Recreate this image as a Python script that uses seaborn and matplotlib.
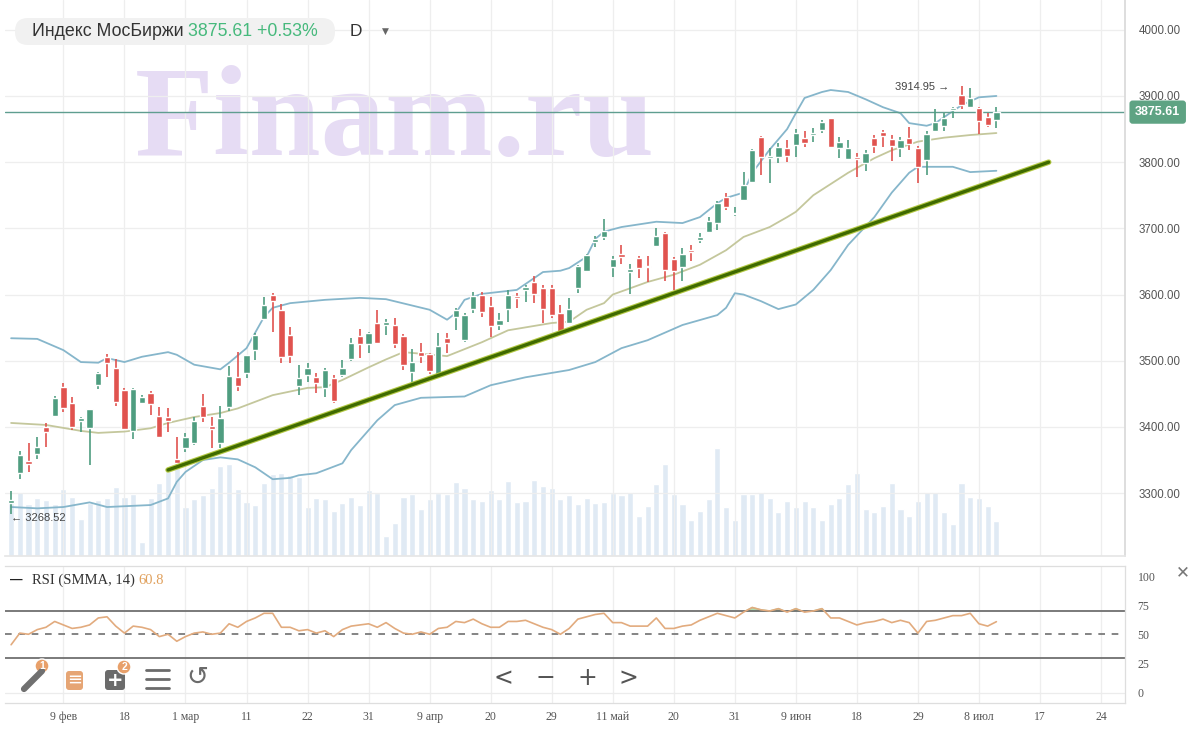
import numpy as np
import pandas as pd
import seaborn as sns
import matplotlib.pyplot as plt
import matplotlib.patheffects as pe
from matplotlib.patches import FancyBboxPatch, Circle
from matplotlib.transforms import IdentityTransform
from matplotlib.ticker import StrMethodFormatter

# daily candles, IMOEX (one entry per trading day)
opens = [3285, 3330, 3348, 3359, 3400, 3416, 3460, 3436, 3409, 3398,
         3463, 3506, 3489, 3456, 3394, 3436, 3451, 3416, 3415, 3351,
         3368, 3376, 3432, 3401, 3376, 3430, 3475, 3481, 3516, 3563,
         3599, 3577, 3539, 3462, 3478, 3475, 3459, 3474, 3478, 3503,
         3537, 3525, 3557, 3554, 3554, 3537, 3483, 3513, 3510, 3478,
         3534, 3566, 3531, 3578, 3599, 3583, 3554, 3578, 3598, 3607,
         3619, 3610, 3610, 3572, 3557, 3610, 3636, 3679, 3687, 3642,
         3661, 3634, 3655, 3643, 3673, 3693, 3654, 3642, 3667, 3683,
         3695, 3708, 3747, 3721, 3743, 3770, 3838, 3806, 3808, 3822,
         3826, 3837, 3841, 3849, 3866, 3822, 3805, 3807, 3799, 3837,
         3846, 3835, 3822, 3837, 3822, 3803, 3847, 3855, 3879, 3902,
         3884, 3882, 3868, 3864]
highs = [3303, 3363, 3376, 3385, 3406, 3447, 3466, 3445, 3415, 3427,
         3483, 3510, 3503, 3459, 3459, 3448, 3454, 3430, 3428, 3385,
         3391, 3415, 3450, 3415, 3432, 3492, 3513, 3509, 3542, 3596,
         3602, 3586, 3551, 3494, 3497, 3481, 3489, 3478, 3501, 3534,
         3548, 3543, 3577, 3563, 3565, 3540, 3518, 3527, 3512, 3542,
         3542, 3580, 3572, 3604, 3604, 3596, 3572, 3607, 3602, 3614,
         3628, 3614, 3614, 3584, 3595, 3645, 3661, 3689, 3714, 3658,
         3675, 3646, 3658, 3658, 3701, 3694, 3657, 3670, 3675, 3693,
         3717, 3741, 3753, 3732, 3785, 3820, 3840, 3822, 3829, 3834,
         3850, 3847, 3852, 3864, 3867, 3838, 3834, 3814, 3819, 3841,
         3849, 3841, 3838, 3853, 3825, 3847, 3880, 3875, 3884, 3914.95,
         3912, 3884, 3875, 3884]
lows = [3268.52, 3321, 3332, 3351, 3370, 3415, 3422, 3395, 3392, 3342,
        3457, 3475, 3432, 3396, 3382, 3434, 3418, 3385, 3392, 3336,
        3362, 3373, 3407, 3368, 3368, 3424, 3454, 3474, 3501, 3562,
        3543, 3497, 3497, 3448, 3468, 3451, 3445, 3436, 3476, 3500,
        3504, 3512, 3525, 3539, 3519, 3486, 3466, 3497, 3480, 3475,
        3512, 3546, 3528, 3572, 3566, 3536, 3546, 3559, 3580, 3589,
        3587, 3557, 3565, 3539, 3555, 3602, 3634, 3672, 3682, 3627,
        3646, 3601, 3625, 3619, 3672, 3621, 3607, 3621, 3651, 3678,
        3693, 3698, 3728, 3719, 3742, 3769, 3781, 3769, 3799, 3801,
        3808, 3823, 3831, 3844, 3822, 3806, 3804, 3778, 3787, 3814,
        3823, 3802, 3808, 3819, 3769, 3781, 3846, 3847, 3866, 3880,
        3883, 3843, 3853, 3852]
closes = [3289, 3357, 3344, 3370, 3392, 3444, 3428, 3400, 3413, 3427,
          3481, 3497, 3438, 3397, 3457, 3445, 3435, 3385, 3409, 3345,
          3385, 3409, 3415, 3397, 3413, 3477, 3462, 3509, 3539, 3584,
          3590, 3506, 3507, 3474, 3489, 3466, 3486, 3439, 3489, 3527,
          3525, 3542, 3527, 3559, 3525, 3494, 3498, 3507, 3484, 3522,
          3527, 3577, 3569, 3598, 3574, 3553, 3562, 3599, 3595, 3611,
          3601, 3578, 3569, 3542, 3578, 3643, 3660, 3684, 3696, 3654,
          3657, 3639, 3640, 3641, 3689, 3637, 3636, 3661, 3664, 3687,
          3711, 3738, 3732, 3723, 3766, 3819, 3808, 3809, 3823, 3810,
          3844, 3829, 3843, 3861, 3823, 3831, 3822, 3805, 3814, 3825,
          3840, 3825, 3834, 3828, 3793, 3843, 3861, 3867, 3882, 3887,
          3897, 3862, 3856, 3875.61]
# volume, relative units
volumes = [53, 64, 52, 58, 56, 52, 67, 59, 37, 53,
           56, 58, 69, 59, 62, 14, 58, 73, 85, 93,
           49, 57, 61, 68, 90, 92, 67, 54, 51, 73,
           82, 83, 81, 79, 49, 58, 57, 45, 53, 59,
           51, 66, 63, 20, 33, 59, 62, 47, 57, 63,
           62, 74, 68, 57, 55, 66, 57, 75, 54, 55,
           76, 70, 68, 57, 61, 52, 58, 53, 54, 63,
           61, 64, 40, 50, 72, 92, 62, 52, 36, 45,
           57, 108, 49, 36, 62, 62, 64, 58, 44, 55,
           49, 55, 49, 36, 52, 58, 72, 83, 47, 44,
           50, 73, 47, 40, 55, 64, 64, 44, 32, 73,
           59, 58, 50, 35]
rsi = [41, 51, 50, 54, 56, 61, 58, 55, 56, 58,
       64, 65, 57, 51, 57, 56, 54, 48, 50, 44,
       48, 51, 52, 50, 51, 59, 56, 61, 64, 68,
       68, 56, 56, 53, 54, 51, 53, 48, 54, 57,
       58, 59, 56, 60, 55, 51, 50, 52, 50, 55,
       56, 61, 60, 63, 59, 56, 56, 61, 61, 62,
       59, 56, 54, 50, 55, 63, 65, 67, 68, 60,
       60, 57, 57, 57, 64, 55, 55, 57, 58, 62,
       65, 68, 66, 64, 69, 73, 71, 70, 72, 69,
       72, 69, 70, 72, 64, 64, 61, 58, 60, 61,
       63, 60, 62, 60, 51, 61, 62, 64, 66, 66,
       68, 59, 57, 60.8]

# Bollinger bands read at some bars
upper_idx = [0, 3, 6, 8, 10, 11, 13, 15, 18, 19, 21, 24, 25, 27, 29, 30, 32, 36, 40, 43,
             48, 50, 51, 52, 54, 58, 61, 63, 64, 66, 67, 68, 70, 74, 77, 79, 81, 82, 84, 85,
             87, 89, 90, 91, 93, 94, 96, 98, 100, 102, 103, 105, 106, 107, 109, 111, 113]
upper = [3534, 3533, 3516, 3498, 3497, 3504, 3498, 3506, 3513, 3509, 3494, 3487, 3497, 3519, 3566, 3580, 3587, 3592, 3595, 3593,
         3577, 3562, 3572, 3592, 3601, 3607, 3634, 3636, 3640, 3657, 3684, 3695, 3702, 3710, 3708, 3717, 3738, 3746, 3754, 3784,
         3819, 3850, 3874, 3897, 3906, 3909, 3906, 3895, 3883, 3874, 3859, 3855, 3859, 3868, 3886, 3898, 3900]
mid_idx = [0, 4, 8, 10, 13, 16, 18, 21, 24, 26, 30, 34, 36, 38, 41, 43, 45, 50, 54, 57,
           62, 64, 66, 68, 69, 73, 76, 79, 82, 84, 87, 89, 90, 92, 96, 99, 101, 104, 107, 110, 113]
mid = [3406, 3403, 3394, 3391, 3393, 3398, 3406, 3415, 3421, 3428, 3448, 3459, 3460, 3471, 3490, 3502, 3513, 3507, 3528, 3546,
       3557, 3559, 3577, 3587, 3600, 3619, 3630, 3645, 3667, 3687, 3702, 3717, 3725, 3750, 3784, 3806, 3818, 3831, 3837, 3841, 3844]
lower_idx = [0, 3, 6, 9, 11, 16, 18, 19, 20, 22, 24, 26, 28, 30, 32, 33, 35, 38, 39, 40,
             42, 44, 47, 52, 55, 56, 59, 64, 65, 67, 70, 73, 77, 81, 82, 83, 84, 86, 88, 90,
             92, 94, 96, 99, 101, 103, 104, 105, 108, 110, 113]
lower = [3279, 3277, 3279, 3286, 3279, 3282, 3292, 3317, 3332, 3350, 3354, 3351, 3339, 3321, 3323, 3327, 3330, 3345, 3365, 3380,
         3410, 3433, 3444, 3446, 3463, 3466, 3475, 3486, 3490, 3498, 3519, 3531, 3554, 3569, 3580, 3602, 3600, 3590, 3578, 3585,
         3607, 3637, 3675, 3717, 3754, 3784, 3793, 3793, 3793, 3785, 3787]

# support line drawn by hand on the chart
trend_idx = [18, 119]
trend_val = [3335, 3800]

tick_labels = ['9 фев', '18', '1 мар', '11', '22', '31', '9 апр', '20', '29',
               '11 май', '20', '31', '9 июн', '18', '29', '8 июл', '17', '24']

df = pd.DataFrame({'open': opens, 'high': highs, 'low': lows, 'close': closes,
                   'vol': volumes, 'rsi': rsi})
df['bar'] = np.arange(len(df))

GREEN = '#4f9d80'
RED = '#e0534f'
GRID = '#eeeeee'
LBL = '#555555'

sns.set_theme(style='white')
plt.rcParams['font.family'] = ['Liberation Sans', 'DejaVu Sans']

W, H = 1200, 740
fig = plt.figure(figsize=(12, 7.4), dpi=100)
ax = fig.add_axes([5 / W, 1 - 556 / H, 1120 / W, 556 / H])
rax = fig.add_axes([5 / W, 1 - 703 / H, 1120 / W, 137 / H], sharex=ax)

# volume underneath
axv = ax.twinx()
axv.set_zorder(ax.get_zorder() - 1)
ax.patch.set_visible(False)
axv.bar(df['bar'], df['vol'], width=0.7, color='#e0eaf4', zorder=1)
axv.set_ylim(0, 556)
axv.set_yticks([])
for s in axv.spines.values():
    s.set_visible(False)

# watermark
ax.text(135 / W, 1 - 155 / H, 'Finam.ru', transform=fig.transFigure, fontsize=93,
        fontweight='bold', family='Liberation Serif', color='#e6dcf4', zorder=0.5,
        va='baseline', ha='left')

# bands
sns.lineplot(x=upper_idx, y=upper, ax=ax, color='#86b6cb', linewidth=1.3, zorder=2)
sns.lineplot(x=lower_idx, y=lower, ax=ax, color='#86b6cb', linewidth=1.3, zorder=2)
sns.lineplot(x=mid_idx, y=mid, ax=ax, color='#c4c79c', linewidth=1.3, zorder=2)

# candles
up = df['close'] >= df['open']
cols = np.where(up, GREEN, RED)
ax.vlines(df['bar'], df['low'], df['high'], color=cols, linewidth=1.2, zorder=3)
body = (df['close'] - df['open']).abs().clip(lower=2.5)
ax.bar(df['bar'], body, bottom=np.minimum(df['open'], df['close']), width=0.72,
       color=cols, zorder=4)

# last price line + label
last = closes[-1]
ax.axhline(last, color='#5f9e90', linewidth=1, zorder=2.5)
ax.text(1.009, last, f'{last:.2f}', transform=ax.get_yaxis_transform(), ha='left',
        va='center', fontsize=9, fontweight='bold', color='white', clip_on=False,
        bbox=dict(boxstyle='round,pad=0.45,rounding_size=0.25', fc='#5ea383', ec='none'),
        zorder=6)

# trend line
ax.plot(trend_idx, trend_val, color='#3f6a00', linewidth=2.4, zorder=5, solid_capstyle='round',
        path_effects=[pe.Stroke(linewidth=4, foreground='#b3c843'), pe.Normal()])

# high / low marks
hi = int(np.argmax(highs))
ax.annotate(f'{highs[hi]:.2f} \u2192', xy=(hi, highs[hi]), xytext=(-9, -1),
            textcoords='offset points', ha='right', va='center', fontsize=8, color='#444444')
lo = int(np.argmin(lows))
ax.annotate(f'\u2190 {lows[lo]:.2f}', xy=(lo, lows[lo]), xytext=(0, -3),
            textcoords='offset points', ha='left', va='center', fontsize=8, color='#444444')

ax.set_xlim(-0.7, 127.75)
ax.set_ylim(3205, 4045)
ax.set_yticks(np.arange(3300, 4001, 100))
ax.yaxis.tick_right()
ax.yaxis.set_major_formatter(StrMethodFormatter('{x:.2f}'))
ax.tick_params(axis='y', length=0, pad=10, labelsize=8.3, labelcolor=LBL)
ax.tick_params(axis='x', length=0, labelbottom=False)
ax.grid(True, color=GRID, linewidth=0.9)
for k in ['top', 'left']:
    ax.spines[k].set_visible(False)
ax.spines['right'].set_color('#dadada')
ax.spines['bottom'].set_color('#e6e6e6')
ax.set_xlabel('')
ax.set_ylabel('')

# RSI panel
bars = df['bar'].to_numpy()
rv = df['rsi'].to_numpy()
rax.fill_between(bars, 70, rv, where=rv > 70, interpolate=True, color='#9fd49a', alpha=0.8, zorder=2)
sns.lineplot(x=bars, y=rv, ax=rax, color='#e2ab7e', linewidth=1.2, zorder=3)
rax.axhline(70, color='#707070', linewidth=1.3, zorder=2)
rax.axhline(30, color='#707070', linewidth=1.3, zorder=2)
rax.axhline(50, color='#707070', linewidth=1.2, linestyle=(0, (4, 4)), zorder=2)
rax.axhline(0, color='#ececec', linewidth=0.9, zorder=1)
rax.set_ylim(-9, 108.6)
rax.set_yticks([0, 25, 50, 75, 100])
rax.yaxis.tick_right()
rax.tick_params(axis='y', length=0, pad=9, labelsize=8.5, labelcolor=LBL)
for t in rax.get_yticklabels():
    t.set_family('Liberation Serif')
rax.set_xticks(np.arange(6, 6 + 7 * len(tick_labels), 7))
rax.set_xticklabels(tick_labels, family='Liberation Serif', fontsize=8.5, color=LBL)
rax.tick_params(axis='x', length=0, pad=6)
rax.grid(True, axis='x', color=GRID, linewidth=0.9)
rax.spines['left'].set_visible(False)
for k in ['top', 'right', 'bottom']:
    rax.spines[k].set_color('#dedede')
    rax.spines[k].set_linewidth(0.9)
rax.set_xlabel('')
rax.set_ylabel('')


def fx(x, y):
    return x / W, 1 - y / H


def after(txt, s, **kw):
    # put a second text right after the end of the first one
    fig.canvas.draw()
    bb = txt.get_window_extent()
    y = txt.get_position()[1]
    return fig.text(bb.x1 / W, y, s, va='center', ha='left', **kw)


# header pill
fig.add_artist(FancyBboxPatch((15, H - 45), 320, 27, boxstyle='round,pad=0,rounding_size=13',
                              transform=IdentityTransform(), fc='#f1f1f1', ec='none'))
t1 = fig.text(*fx(32, 31), 'Индекс МосБиржи ', fontsize=12.8, color='#333333', va='center')
after(t1, '3875.61 +0.53%', fontsize=12.8, color='#46b97c')
fig.text(*fx(350, 31), 'D', fontsize=12.5, color='#333333', va='center')
fig.text(*fx(385, 31), '\u25bc', fontsize=6.5, color='#666666', va='center', ha='center',
         family='DejaVu Sans')

# RSI legend
fig.text(*fx(10, 580), '\u2014', fontsize=9, fontweight='bold', color='#222222', va='center')
t2 = fig.text(*fx(32, 580), 'RSI (SMMA, 14) ', fontsize=10.5, color='#333333', va='center',
              family='Liberation Serif')
after(t2, f'{rsi[-1]}', fontsize=10.5, color='#e0a05c', family='Liberation Serif')
fig.text(*fx(1183, 572), '\u2715', fontsize=12, color='#777777', va='center', ha='center',
         family='DejaVu Sans')

# chart toolbar
for xx, ch in [(503, '<'), (545, '\u2212'), (587, '+'), (628, '>')]:
    fig.text(*fx(xx, 678), ch, fontsize=17, color='#555555', va='center', ha='center',
             family='DejaVu Sans')
fig.add_artist(plt.Line2D([24 / W, 42 / W], [1 - 689 / H, 1 - 671 / H], color='#707070',
                          linewidth=4.5, solid_capstyle='round'))
fig.add_artist(FancyBboxPatch((66, H - 690), 17, 19, boxstyle='round,pad=0,rounding_size=3',
                              transform=IdentityTransform(), fc='#e6a574', ec='none'))
fig.text(*fx(74.5, 680), '\u2261', fontsize=13, color='white', va='center', ha='center',
         family='DejaVu Sans')
fig.add_artist(FancyBboxPatch((105, H - 690), 20, 20, boxstyle='round,pad=0,rounding_size=3',
                              transform=IdentityTransform(), fc='#6b6b6b', ec='none'))
fig.text(*fx(115, 680), '+', fontsize=14, fontweight='bold', color='white', va='center',
         ha='center', family='DejaVu Sans')
for yy in [670, 679, 688]:
    fig.add_artist(plt.Line2D([146 / W, 169 / W], [1 - yy / H] * 2, color='#6b6b6b', linewidth=2))
fig.text(*fx(197, 678), '\u21ba', fontsize=19, color='#6b6b6b', va='center', ha='center',
         family='DejaVu Sans')
for cx, cy, n in [(42, 666, '1'), (124, 667, '2')]:
    fig.add_artist(Circle((cx, H - cy), 7, transform=IdentityTransform(), fc='#e8a06a', ec='white',
                          linewidth=1))
    fig.text(*fx(cx, cy), n, fontsize=7.5, fontweight='bold', color='white', va='center',
             ha='center')

fig.savefig('out.png', dpi=100)
